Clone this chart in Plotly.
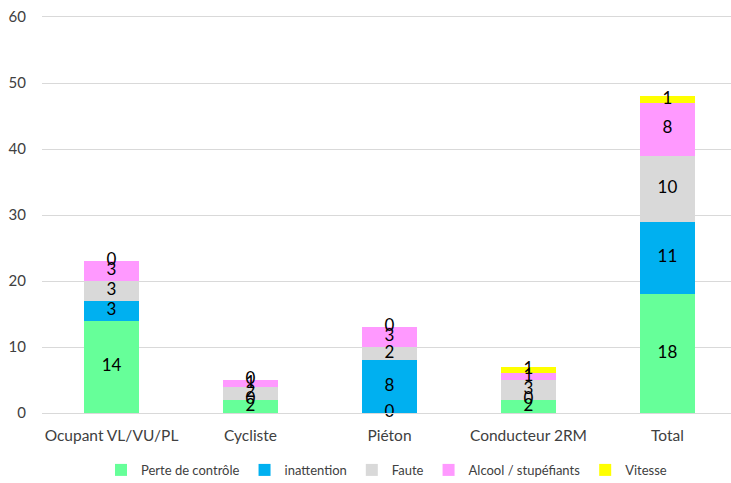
import plotly.graph_objects as go
import numpy as np

categories = ["Ocupant VL/VU/PL", "Cycliste", "Piéton", "Conducteur 2RM", "Total"]
series_names = ["Perte de contrôle", "inattention", "Faute", "Alcool / stupéfiants", "Vitesse"]
perte = [14, 2, 0, 2, 18]
inattention = [3, 0, 8, 0, 11]
faute = [3, 2, 2, 3, 10]
alcool = [3, 1, 3, 1, 8]
vitesse = [0, 0, 0, 1, 1]
y_ticks = [0, 10, 20, 30, 40, 50, 60]

series = [perte, inattention, faute, alcool, vitesse]
colors = ["#66ff99", "#00b0f0", "#d9d9d9", "#ff99ff", "#ffff00"]
FONT = "Lato, Open Sans, sans-serif"

fig = go.Figure()
for name, vals, col in zip(series_names, series, colors):
    fig.add_trace(go.Bar(x=categories, y=vals, name=name, marker=dict(color=col, line=dict(width=0))))

# data labels at the middle of each segment (including zeros)
base = np.zeros(len(categories))
for vals in series:
    v = np.array(vals, dtype=float)
    mid = base + v / 2
    fig.add_trace(go.Scatter(x=categories, y=mid, mode="text", text=[str(int(a)) for a in v],
                             textfont=dict(family=FONT, size=17, color="#000000"),
                             showlegend=False, hoverinfo="skip", cliponaxis=False))
    base = base + v

fig.update_layout(
    barmode="stack",
    bargap=0.6,
    width=731, height=483,
    margin=dict(l=41.5, r=0, t=17, b=70, autoexpand=False),
    paper_bgcolor="white", plot_bgcolor="white",
    font=dict(family=FONT, size=13, color="#595959"),
    xaxis=dict(range=[-0.5, 4.457], showgrid=False, showline=True, mirror=True, linecolor="#d9d9d9",
               tickfont=dict(size=15.5, color="#404040"), ticks="", ticklabelstandoff=8),
    yaxis=dict(range=[0, 60], tickvals=y_ticks, showgrid=True, gridcolor="#d9d9d9", gridwidth=1,
               zeroline=False, tickfont=dict(size=15, color="#404040"), ticks="", ticklabelstandoff=15,
               ticklabeloverflow="allow"),
    legend=dict(orientation="h", x=0.5, xanchor="center", yref="container", y=0.027, yanchor="middle",
                itemwidth=30, font=dict(size=13, color="#404040"), traceorder="normal"),
)

fig.write_html("out.html", config={"displayModeBar": False},
               post_script="document.body.style.margin='0';document.body.style.overflow='hidden';")
